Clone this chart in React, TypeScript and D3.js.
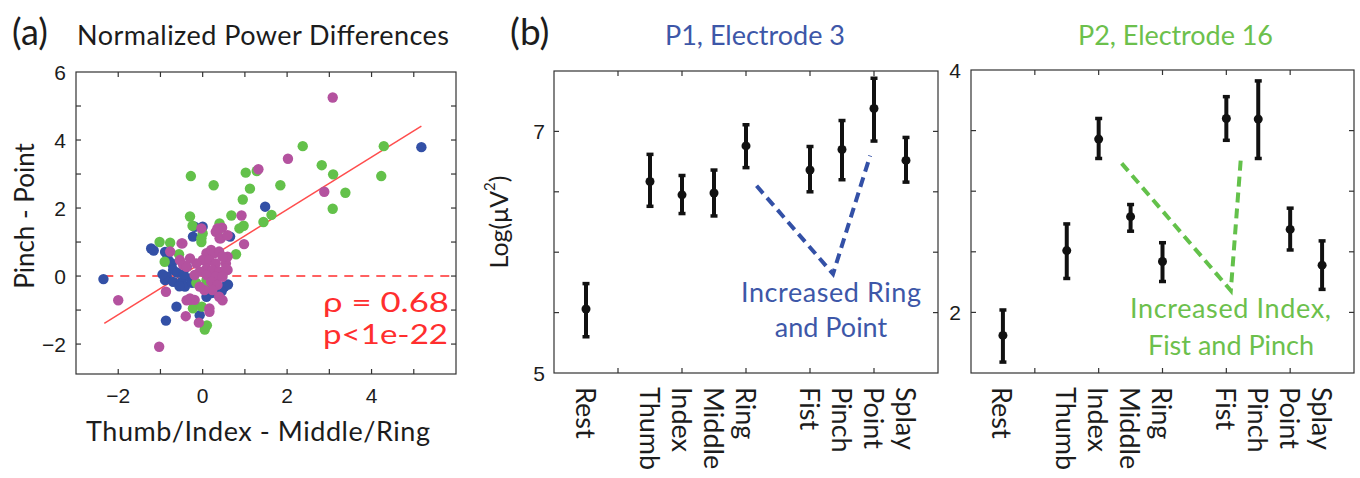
import React from 'react';
import * as d3 from 'd3';

const W = 1360;
const H = 478;
const SANS = "Lato, 'Open Sans', sans-serif";
const HELV = "'Liberation Sans', Arial, sans-serif";

// ---- panel (a): normalized power differences, [x, y] pairs
const bluePts: [number, number][] = [
  [-2.35, -0.09], [-1.22, 0.81], [-1.16, 0.75], [-0.89, 0.71], [-0.85, 0.65],
  [-0.81, 0.47], [-0.73, 0.37], [-0.7, 0.18], [-0.85, -0.02], [-0.89, -0.12],
  [-0.95, 0.05], [-0.7, -0.17], [-0.5, -0.17], [-0.42, -0.31], [-0.55, -0.3],
  [-0.3, -0.07], [-0.38, 0.27], [-0.6, 0.1], [-0.45, 0.05], [-0.23, 1.16],
  [-0.19, 1.45], [0, 1.45], [0.65, 1.16], [1.48, 2.04], [0.09, -0.61],
  [0.2, -0.5], [0.52, -0.31], [0.6, -0.25], [0.45, -0.45], [-0.62, -0.9],
  [-0.87, -1.31], [-0.07, -1.15], [5.18, 3.79], [0.32, -0.5], [-0.25, -0.2],
];
const greenPts: [number, number][] = [
  [2.37, 3.82], [4.29, 3.82], [2.82, 3.26], [3.09, 2.99], [4.23, 2.94],
  [1.02, 3.04], [1.28, 3.09], [-0.28, 2.94], [0.26, 2.67], [1.84, 2.67],
  [1.12, 2.57], [0.95, 2.25], [3.38, 2.45], [3.08, 1.98], [0.68, 1.78],
  [1.63, 1.8], [1.44, 1.59], [0.97, 1.48], [0.87, 1.4], [-0.3, 1.75],
  [-0.24, 1.48], [0.4, 1.55], [-1.02, 1.0], [-0.77, 0.98], [-0.56, 0.64],
  [-0.9, 0.42], [0.79, 0.64], [0, 1.25], [-0.03, 1.0], [-0.23, -0.95],
  [-0.02, -0.9], [0.05, -1.57], [0.09, -0.12], [0.05, -0.36], [0.48, 0.08],
  [-0.03, 1.11], [0.1, -1.45], [-0.2, -0.75], [0.15, -0.3], [0.25, -0.1],
  [-0.15, -0.2], [0.35, 1.3],
];
const magentaPts: [number, number][] = [
  [3.08, 5.25], [2.02, 3.45], [1.32, 3.14], [2.88, 2.48], [0.92, 1.78],
  [0.98, 0.94], [-0.03, 1.4], [0.36, 1.38], [0.46, 1.42], [0.4, 1.11],
  [-0.48, 0.96], [-0.77, 0.72], [-2.0, -0.71], [-1.03, -2.08], [-0.87, -0.46],
  [-0.4, -1.18], [-0.09, -1.37], [0.16, -1.05], [-0.3, -0.7], [-0.19, -0.7],
  [0.55, 0.37], [-0.54, 0.47], [0.59, 0.57], [0.59, 0.18], [0.09, 0.67],
  [0.2, 0.77], [0.27, 0.67], [0.39, 0.72], [0.47, 0.57], [0, 0.47],
  [0.16, 0.47], [0.31, 0.37], [-0.15, 0.37], [-0.3, 0.52], [-0.46, 0.32],
  [-0.38, 0.27], [0.09, 0.22], [0.23, 0.18], [-0.07, 0.13], [0.39, 0.13],
  [0.55, 0.22], [0.09, 0.03], [0.31, -0.02], [0.47, -0.02], [0.2, -0.17],
  [0.35, -0.26], [0.23, -0.41], [0.04, -0.41], [0.39, -0.61], [0.47, -0.71],
  [-0.07, -0.31], [-0.19, 0.03], [-0.3, -0.66], [-0.38, -0.71], [0.16, -0.95],
  [0.35, 1.4], [0.31, 1.3], [0.43, 1.11], [0.59, 1.2], [-0.5, 0.96],
];
const fitSlope = 0.772;
const fitIntercept = 0.41;
const fitFrom = -2.33;
const fitTo = 5.18;
const aXTicks = [-2, -1, 0, 1, 2, 3, 4, 5];
const aXLabels = [-2, 0, 2, 4];
const aYTicks = [-2, -1, 0, 1, 2, 3, 4, 5];
const aYLabels = [-2, 0, 2, 4, 6];

// ---- panel (b): log power per movement, mean with error bar
const categories = ['Rest', 'Thumb', 'Index', 'Middle', 'Ring', 'Fist', 'Pinch', 'Point', 'Splay'];
const catPos = [1, 3, 4, 5, 6, 8, 9, 10, 11];
const p1Mean = [5.53, 6.585, 6.475, 6.49, 6.88, 6.68, 6.85, 7.19, 6.76];
const p1Hi = [5.74, 6.81, 6.635, 6.68, 7.055, 6.875, 7.09, 7.44, 6.95];
const p1Lo = [5.3, 6.38, 6.32, 6.3, 6.7, 6.5, 6.6, 6.92, 6.58];
const p2Mean = [1.81, 2.51, 3.43, 2.79, 2.42, 3.6, 3.595, 2.685, 2.39];
const p2Hi = [2.02, 2.73, 3.6, 2.89, 2.575, 3.78, 3.91, 2.86, 2.59];
const p2Lo = [1.59, 2.28, 3.27, 2.67, 2.255, 3.42, 3.27, 2.515, 2.19];
const bXTicks = [2, 4, 6, 8, 10];
const p1YTicks = [5.5, 6, 6.5, 7];
const p1YLabels = [5, 7];
const p2YTicks = [2, 2.5, 3, 3.5];
const p2YLabels = [2, 4];
const p1Dash: [number, number][] = [[6.33, 6.55], [8.72, 5.82], [9.88, 6.8]];
const p2Dash: [number, number][] = [[4.72, 3.23], [8.14, 2.18], [8.46, 3.29]];

const BLUE = '#3350a6';
const GREEN = '#63c14a';
const MAGENTA = '#b4529f';
const RED = '#ff2e2e';
const BLUE_TXT = '#3d57a8';
const GREEN_TXT = '#6cc04c';
const INK = '#1c1c1c';

const xA = d3.scaleLinear().domain([-3, 6]).range([76, 456]);
const yA = d3.scaleLinear().domain([-2.88, 6]).range([374, 72]);
const xB1 = d3.scaleLinear().domain([0, 12]).range([554, 938]);
const yB1 = d3.scaleLinear().domain([5, 7.5]).range([373, 71]);
const xB2 = d3.scaleLinear().domain([0, 12]).range([971, 1354]);
const yB2 = d3.scaleLinear().domain([1.5, 4]).range([373, 70]);

function Frame({ xs, ys, xt, yt }: any) {
  const [x0, x1] = xs.range();
  const [y0, y1] = ys.range();
  const len = 5;
  return (
    <g stroke="#333" strokeWidth={1.2} fill="none">
      <rect x={x0} y={y1} width={x1 - x0} height={y0 - y1} />
      {xt.map((v: number) => (
        <g key={'x' + v}>
          <line x1={xs(v)} x2={xs(v)} y1={y0} y2={y0 - len} />
          <line x1={xs(v)} x2={xs(v)} y1={y1} y2={y1 + len} />
        </g>
      ))}
      {yt.map((v: number) => (
        <g key={'y' + v}>
          <line x1={x0} x2={x0 + len} y1={ys(v)} y2={ys(v)} />
          <line x1={x1} x2={x1 - len} y1={ys(v)} y2={ys(v)} />
        </g>
      ))}
    </g>
  );
}

function ErrorBars({ xs, ys, mean, hi, lo }: any) {
  return (
    <g stroke="#111" fill="#111">
      {catPos.map((p, i) => {
        const cx = xs(p);
        return (
          <g key={i}>
            <line x1={cx} x2={cx} y1={ys(lo[i])} y2={ys(hi[i])} strokeWidth={4} />
            <line x1={cx - 3.5} x2={cx + 3.5} y1={ys(hi[i])} y2={ys(hi[i])} strokeWidth={3.5} />
            <line x1={cx - 3.5} x2={cx + 3.5} y1={ys(lo[i])} y2={ys(lo[i])} strokeWidth={3.5} />
            <circle cx={cx} cy={ys(mean[i])} r={4.5} stroke="none" />
          </g>
        );
      })}
    </g>
  );
}

function CatLabels({ xs }: any) {
  return (
    <g fontFamily={SANS} fontSize={27} fill={INK}>
      {categories.map((c, i) => (
        <text key={c} transform={`translate(${xs(catPos[i])},387) rotate(90)`} dominantBaseline="central">
          {c}
        </text>
      ))}
    </g>
  );
}

export default function App() {
  const fitLine = d3.line<number>().x((v) => xA(v)).y((v) => yA(fitIntercept + fitSlope * v));
  const dash1 = d3.line<[number, number]>().x((d) => xB1(d[0])).y((d) => yB1(d[1]));
  const dash2 = d3.line<[number, number]>().x((d) => xB2(d[0])).y((d) => yB2(d[1]));
  const groups: [[number, number][], string][] = [
    [bluePts, BLUE],
    [greenPts, GREEN],
    [magentaPts, MAGENTA],
  ];

  return (
    <svg width={W} height={H} style={{ position: 'absolute', left: 0, top: 0, background: '#fff' }}>
      {/* panel (a) */}
      <text x={12} y={45} fontFamily={SANS} fontSize={36} fill={INK}>(a)</text>
      <text x={77} y={45} fontFamily={SANS} fontSize={27} fill={INK} textLength={372}>Normalized Power Differences</text>

      <line x1={xA(fitFrom)} x2={xA(6)} y1={yA(0)} y2={yA(0)} stroke={RED} strokeWidth={1.5} strokeDasharray="9 7" />
      <path d={fitLine([fitFrom, fitTo]) || ''} stroke={RED} strokeWidth={1.5} fill="none" opacity={0.85} />
      {groups.map(([pts, col]) => (
        <g key={col} fill={col}>
          {pts.map((d, i) => (
            <circle key={i} cx={xA(d[0])} cy={yA(d[1])} r={5.2} />
          ))}
        </g>
      ))}
      <Frame xs={xA} ys={yA} xt={aXTicks} yt={aYTicks} />
      <g fontFamily={HELV} fontSize={21} fill={INK}>
        {aXLabels.map((v) => (
          <text key={v} x={xA(v)} y={403} textAnchor="middle">{v < 0 ? '\u2212' + Math.abs(v) : v}</text>
        ))}
        {aYLabels.map((v) => (
          <text key={v} x={66} y={yA(v)} textAnchor="end" dominantBaseline="central">
            {v < 0 ? '\u2212' + Math.abs(v) : v}
          </text>
        ))}
      </g>
      <text x={323} y={312} fontFamily={SANS} fontSize={26} fill={RED} textLength={126}
        lengthAdjust="spacingAndGlyphs">ρ = 0.68</text>
      <text x={323} y={344} fontFamily={SANS} fontSize={26} fill={RED} textLength={125}
        lengthAdjust="spacingAndGlyphs">p&lt;1e-22</text>
      <text transform="translate(24,216) rotate(-90)" textAnchor="middle" dominantBaseline="central"
        fontFamily={SANS} fontSize={26} fill={INK}>Pinch - Point</text>
      <text x={86} y={441} fontFamily={SANS} fontSize={27} fill={INK} textLength={344}>
        Thumb/Index - Middle/Ring
      </text>

      {/* panel (b) */}
      <text x={510} y={45} fontFamily={SANS} fontSize={37} fill={INK}>(b)</text>
      <text x={665} y={45} fontFamily={SANS} fontSize={27} fill={BLUE_TXT} textLength={180}>P1, Electrode 3</text>
      <text x={1078} y={45} fontFamily={SANS} fontSize={27} fill={GREEN_TXT} textLength={195}>P2, Electrode 16</text>
      <text transform="translate(498,222) rotate(-90)" textAnchor="middle" dominantBaseline="central"
        fontFamily={SANS} fontSize={25} fill={INK}>
        Log(μV<tspan fontSize={15} dy={-9}>2</tspan><tspan dy={9}>)</tspan>
      </text>

      <path d={dash1(p1Dash) || ''} stroke={BLUE} strokeWidth={4} fill="none" strokeDasharray="10 6" />
      <path d={dash2(p2Dash) || ''} stroke={GREEN} strokeWidth={4} fill="none" strokeDasharray="10 6" />
      <ErrorBars xs={xB1} ys={yB1} mean={p1Mean} hi={p1Hi} lo={p1Lo} />
      <ErrorBars xs={xB2} ys={yB2} mean={p2Mean} hi={p2Hi} lo={p2Lo} />
      <Frame xs={xB1} ys={yB1} xt={bXTicks} yt={p1YTicks} />
      <Frame xs={xB2} ys={yB2} xt={bXTicks} yt={p2YTicks} />
      <g fontFamily={HELV} fontSize={21} fill={INK}>
        {p1YLabels.map((v) => (
          <text key={v} x={545} y={yB1(v)} textAnchor="end" dominantBaseline="central">{v}</text>
        ))}
        {p2YLabels.map((v) => (
          <text key={v} x={961} y={yB2(v)} textAnchor="end" dominantBaseline="central">{v}</text>
        ))}
      </g>
      <CatLabels xs={xB1} />
      <CatLabels xs={xB2} />

      <g fontFamily={SANS} fontSize={27}>
        <text x={741} y={302} fill={BLUE_TXT} textLength={180}>Increased Ring</text>
        <text x={831} y={337} fill={BLUE_TXT} textAnchor="middle">and Point</text>
        <text x={1130} y={318} fill={GREEN_TXT} textLength={201}>Increased Index,</text>
        <text x={1231} y={355} fill={GREEN_TXT} textAnchor="middle">Fist and Pinch</text>
      </g>
    </svg>
  );
}
